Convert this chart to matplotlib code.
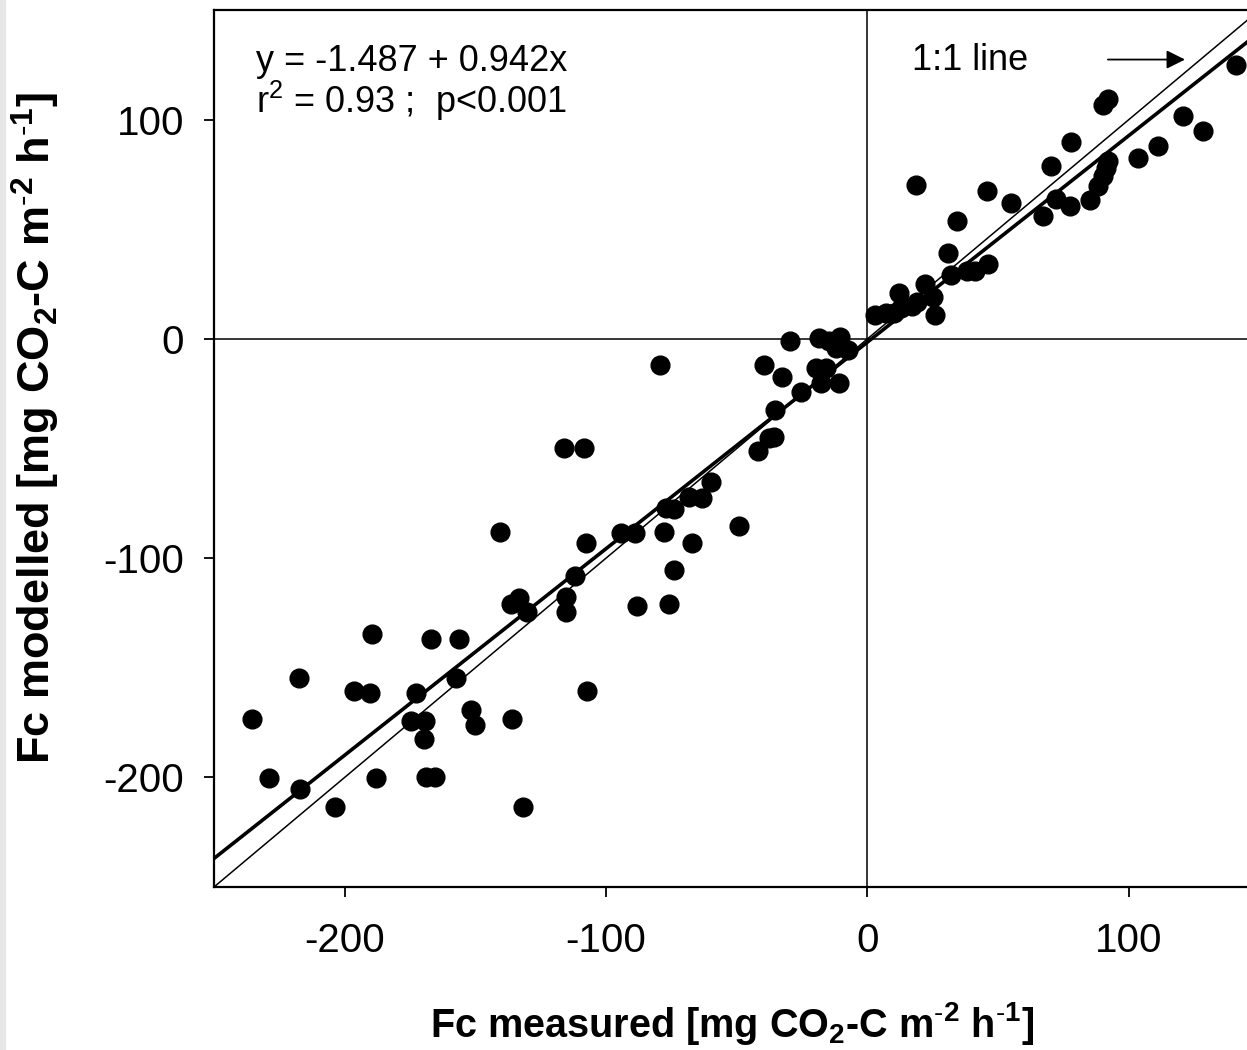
import matplotlib
matplotlib.use("Agg")
import matplotlib.pyplot as plt
from matplotlib.patches import Rectangle
import numpy as np

plt.rcParams['font.family'] = ['Liberation Sans', 'DejaVu Sans']
plt.rcParams['mathtext.fontset'] = 'custom'
plt.rcParams['mathtext.rm'] = 'Liberation Sans'
plt.rcParams['mathtext.it'] = 'Liberation Sans'
plt.rcParams['mathtext.bf'] = 'Liberation Sans:bold'
plt.rcParams['axes.unicode_minus'] = False

# measured vs modelled CO2 flux
fc_measured = [
    -189.6, -167.0, -156.3, -217.6, -196.6, -190.2, -172.7, -157.6, -235.5, -174.8,
    -169.1, -169.7, -151.8, -150.2, -136.1, -229.1, -217.2, -187.9, -168.8, -165.3,
    -203.6, -131.7, -116.0, -108.4, -140.6, -107.8, -94.1, -89.0, -78.0, -67.3,
    -49.0, -77.1, -73.9, -68.2, -63.3, -59.9, -42.0, -37.5, -35.6, -112.0,
    -136.5, -133.3, -130.1, -115.2, -115.2, -88.2, -76.1, -73.9, -107.2, -79.3,
    -29.6, -18.4, -14.6, -10.5, -12.0, -7.5, -39.7, -32.5, -19.7, -15.8,
    -17.7, -10.7, -25.4, -35.2,
    3.0, 7.0, 10.0, 13.0, 12.0, 17.0, 19.0, 22.0, 25.0, 26.0,
    31.0, 32.0, 38.0, 41.0, 46.0, 18.7, 45.9, 55.1, 34.4, 70.4,
    67.2, 72.3, 77.4, 78.0, 90.2, 92.1, 85.1, 88.2, 90.2, 91.4,
    92.1, 103.6, 111.2, 120.6, 128.5, 141.0,
]
fc_modelled = [
    -134.7, -137.1, -137.1, -154.5, -160.6, -161.3, -161.3, -154.5, -173.2, -174.4,
    -174.4, -182.3, -169.4, -176.3, -173.2, -200.2, -205.2, -200.2, -199.9, -199.9,
    -213.5, -213.5, -49.9, -49.9, -88.0, -93.0, -88.7, -88.7, -88.0, -93.0,
    -85.4, -77.3, -77.8, -72.3, -72.8, -65.2, -51.0, -45.4, -44.6, -108.2,
    -120.7, -118.4, -124.5, -117.7, -124.5, -121.9, -120.7, -105.5, -160.6, -11.9,
    -0.8, 0.3, -0.8, 1.0, -4.3, -5.0, -11.9, -17.2, -13.4, -13.4,
    -20.2, -19.9, -24.1, -32.4,
    11.0, 12.0, 12.0, 14.0, 21.0, 15.0, 17.0, 25.0, 19.0, 11.0,
    39.0, 29.0, 31.0, 31.0, 34.0, 70.3, 67.6, 62.0, 53.9, 78.7,
    55.9, 63.8, 60.4, 89.8, 106.8, 109.4, 63.5, 69.5, 74.1, 77.9,
    81.0, 82.5, 88.1, 101.8, 94.7, 125.1,
]

intercept = -1.487
slope = 0.942
x_ticks = [-200, -100, 0, 100]
y_ticks = [-200, -100, 0, 100]

fig = plt.figure(figsize=(12.47, 10.5), dpi=100)
# thin grey strip on the left edge
fig.patches.append(Rectangle((0, 0), 5 / 1247, 1, transform=fig.transFigure,
                             color='#e6e6e6', zorder=0))

ax = fig.add_axes([214 / 1247, 1 - 887 / 1050, (1259.5 - 214) / 1247, (887 - 10) / 1050])
ax.set_xlim(-250, 150)
ax.set_ylim(-250, 150)

# zero lines
ax.axhline(0, color='black', lw=1.1, zorder=1)
ax.axvline(0, color='black', lw=1.1, zorder=1)

# 1:1 line and regression line
xx = np.array([-250, 150])
ax.plot(xx, xx, color='black', lw=1.1, zorder=2)
ax.plot(xx, intercept + slope * xx, color='black', lw=2.6, zorder=2)

ax.plot(fc_measured, fc_modelled, 'o', color='black', ms=13.5, mec='black', zorder=3)

ax.text(-234, 122.4, 'y = -1.487 + 0.942x', fontsize=26, va='baseline')
ax.text(-234, 103.2, 'r$^{2}$ = 0.93 ;  p<0.001', fontsize=26, va='baseline')
ax.text(17.2, 122.8, '1:1 line', fontsize=26, va='baseline')
ax.annotate('', xy=(121.5, 127.4), xytext=(92, 127.4),
            arrowprops=dict(arrowstyle='-|>', color='black', lw=1.3, mutation_scale=28,
                            shrinkA=0, shrinkB=0))

ax.set_xticks(x_ticks)
ax.set_yticks(y_ticks)
ax.tick_params(direction='out', length=7.5, width=1.3, labelsize=29)
ax.tick_params(axis='x', pad=18)
ax.tick_params(axis='y', pad=14)
for side in ['left', 'bottom', 'top', 'right']:
    ax.spines[side].set_linewidth(1.6)

unit = ' [mg CO$_\\mathbf{2}$-C m$^\\mathbf{\\text{-}2}$ h$^\\mathbf{\\text{-}1}$]'
ax.set_xlabel('Fc measured' + unit, fontsize=28.5, fontweight='bold')
ax.set_ylabel('Fc modelled' + unit, fontsize=32.5, fontweight='bold')
ax.xaxis.set_label_coords(0.495, -0.129)
ax.yaxis.set_label_coords(-0.145, 0.524)

fig.savefig('out.png', dpi=100)
